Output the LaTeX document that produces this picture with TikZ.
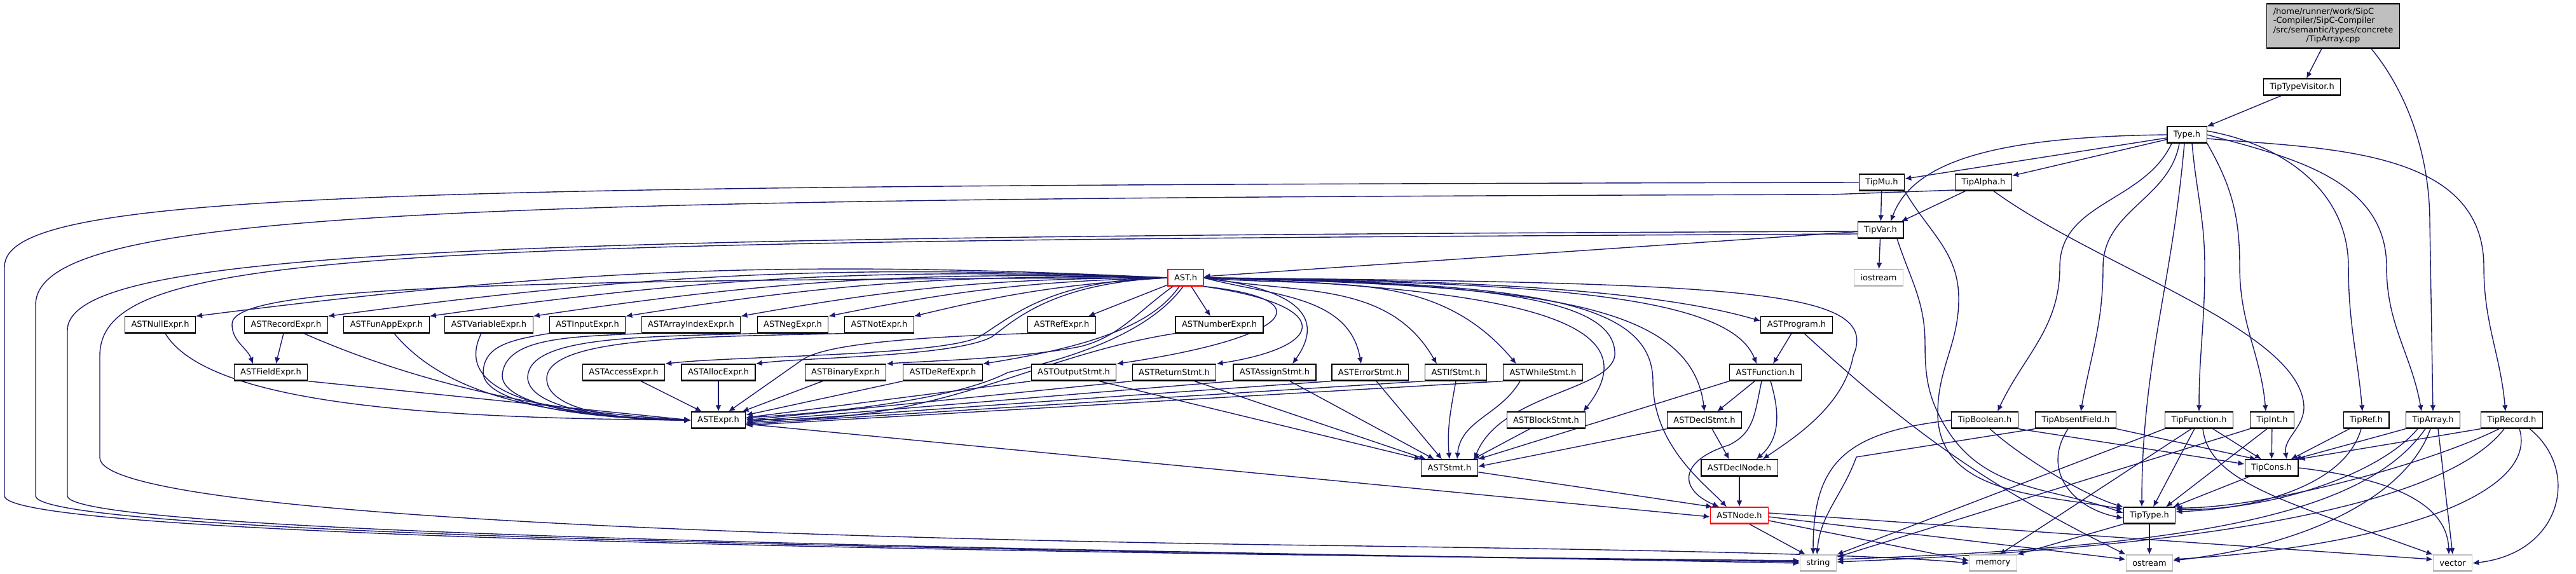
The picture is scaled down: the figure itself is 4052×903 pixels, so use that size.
\documentclass[tikz,border=0pt]{standalone}
\usepackage{fontspec}
\setmainfont{DejaVu Sans}
\usetikzlibrary{arrows.meta}
\pgfdeclarelayer{bg}
\pgfsetlayers{bg,main}
\definecolor{edgec}{HTML}{191970}
\definecolor{sysc}{HTML}{BFBFBF}
\definecolor{mainfill}{HTML}{BFBFBF}
\tikzset{
  hdr/.style={draw=black, fill=white, line width=0.6pt, minimum height=13pt, inner xsep=5pt, inner ysep=0pt,
    font=\fontsize{6.5}{7.2}\selectfont,
    path picture={\draw[line width=1.8pt, black!70] (path picture bounding box.south west) -- (path picture bounding box.south east);}},
  syshdr/.style={hdr, draw=sysc, path picture={\draw[line width=1.6pt, black!30] (path picture bounding box.south west) -- (path picture bounding box.south east);}},
  redhdr/.style={hdr, draw=red, path picture={\draw[line width=1.6pt, red!60] (path picture bounding box.south west) -- (path picture bounding box.south east);}},
  mainhdr/.style={hdr, fill=mainfill, minimum width=104.5pt, minimum height=35pt},
  e/.style={draw=edgec, line width=0.7pt, -{Latex[length=5pt,width=4.4pt]}},
}
\begin{document}
\begin{tikzpicture}[x=0.5pt,y=0.5pt]
\useasboundingbox (0,0) rectangle (4052,-903);
% ---------- nodes ----------
\node[mainhdr] (cpp) at (3670,-41) {\begin{tabular}{@{}l@{}}/home/runner/work/SipC\\-Compiler/SipC-Compiler\\/src/semantic/types/concrete\\\multicolumn{1}{@{}c@{}}{/TipArray.cpp}\end{tabular}};
\node[hdr] (tiptv) at (3621,-137) {TipTypeVisitor.h};
\node[hdr] (type) at (3440,-212) {Type.h};
\node[hdr] (tipmu) at (2960,-287) {TipMu.h};
\node[hdr] (tipalpha) at (3120,-287) {TipAlpha.h};
\node[hdr] (tipvar) at (2958,-362) {TipVar.h};
\node[redhdr] (ast) at (1865,-437) {AST.h};
\node[syshdr] (iostream) at (2955,-437) {iostream};
% rank 6
\node[hdr] (astnull) at (252,-511) {ASTNullExpr.h};
\node[hdr] (astrecord) at (450,-511) {ASTRecordExpr.h};
\node[hdr] (astfunapp) at (608,-511) {ASTFunAppExpr.h};
\node[hdr] (astvariable) at (769,-511) {ASTVariableExpr.h};
\node[hdr] (astinput) at (924,-511) {ASTInputExpr.h};
\node[hdr] (astarrayidx) at (1087,-511) {ASTArrayIndexExpr.h};
\node[hdr] (astneg) at (1247,-511) {ASTNegExpr.h};
\node[hdr] (astnot) at (1383,-511) {ASTNotExpr.h};
\node[hdr] (astref) at (1670,-511) {ASTRefExpr.h};
\node[hdr] (astnumber) at (1918,-511) {ASTNumberExpr.h};
\node[hdr] (astprogram) at (2826,-511) {ASTProgram.h};
% rank 7
\node[hdr] (astfield) at (426,-586) {ASTFieldExpr.h};
\node[hdr] (astaccess) at (981,-586) {ASTAccessExpr.h};
\node[hdr] (astalloc) at (1130,-586) {ASTAllocExpr.h};
\node[hdr] (astbinary) at (1330,-586) {ASTBinaryExpr.h};
\node[hdr] (astderef) at (1483,-586) {ASTDeRefExpr.h};
\node[hdr] (astoutput) at (1689,-586) {ASTOutputStmt.h};
\node[hdr] (astreturn) at (1847,-586) {ASTReturnStmt.h};
\node[hdr] (astassign) at (2005,-586) {ASTAssignStmt.h};
\node[hdr] (asterror) at (2155,-586) {ASTErrorStmt.h};
\node[hdr] (astif) at (2290,-586) {ASTIfStmt.h};
\node[hdr] (astwhile) at (2427,-586) {ASTWhileStmt.h};
\node[hdr] (astfunction) at (2777,-586) {ASTFunction.h};
% rank 8
\node[hdr] (astexpr) at (1130,-661) {ASTExpr.h};
\node[hdr] (astblock) at (2432,-661) {ASTBlockStmt.h};
\node[hdr] (astdeclstmt) at (2681,-661) {ASTDeclStmt.h};
\node[hdr] (tipbool) at (3122,-661) {TipBoolean.h};
\node[hdr] (tipabsent) at (3265,-661) {TipAbsentField.h};
\node[hdr] (tipfunc) at (3459,-661) {TipFunction.h};
\node[hdr] (tipint) at (3574,-661) {TipInt.h};
\node[hdr] (tipref) at (3722,-661) {TipRef.h};
\node[hdr] (tiparray) at (3827,-661) {TipArray.h};
\node[hdr] (tiprecord) at (3951,-661) {TipRecord.h};
% rank 9
\node[hdr] (aststmt) at (2280,-736) {ASTStmt.h};
\node[hdr] (astdeclnode) at (2736,-736) {ASTDeclNode.h};
\node[hdr] (tipcons) at (3573,-736) {TipCons.h};
% rank 10
\node[redhdr] (astnode) at (2736,-811) {ASTNode.h};
\node[hdr] (tiptype) at (3381,-811) {TipType.h};
% rank 11
\node[syshdr] (nstring) at (2860,-886) {string};
\node[syshdr] (nmemory) at (3135,-886) {memory};
\node[syshdr] (nostream) at (3381,-886) {ostream};
\node[syshdr] (nvector) at (3858,-886) {vector};

\begin{pgfonlayer}{bg}
% ---------- top part ----------
\draw[e] (cpp) -- (tiptv);
\draw[e] ([xshift=30pt]cpp.south) .. controls (3790,-150) and (3822,-250) .. (3822,-350) -- (tiparray.north);
\draw[e] (tiptv) -- (type);
\draw[e] (type) -- (tipmu);
\draw[e] (type) -- (tipalpha);
\draw[e] (type.west) .. controls (3150,-215) and (3010,-250) .. ([xshift=8pt]tipvar.north);
\draw[e] ([xshift=-12pt]type.south) to[out=-115,in=90] (3240,-420) to[out=-90,in=65] ([xshift=10pt]tipbool.north);
\draw[e] ([xshift=-6pt]type.south) to[out=-100,in=90] (3308,-420) to[out=-90,in=80] ([xshift=4pt]tipabsent.north);
\draw[e] ([xshift=-2pt]type.south) to[out=-95,in=90] ([xshift=-6pt]tiptype.north);
\draw[e] ([xshift=4pt]type.south) to[out=-85,in=90] (3468,-420) to[out=-90,in=90] (tipfunc.north);
\draw[e] (type.south east) to[out=-60,in=90] (3523,-420) to[out=-90,in=95] ([xshift=-5pt]tipint.north);
\draw[e] ([yshift=3pt]type.east) to[out=-10,in=90] (3694,-420) to[out=-90,in=95] ([xshift=-3pt]tipref.north);
\draw[e] (type.east) to[out=-15,in=90] (3754,-420) to[out=-90,in=100] ([xshift=-9pt]tiparray.north);
\draw[e] ([yshift=-3pt]type.east) to[out=-5,in=90] (3907,-420) to[out=-90,in=95] ([xshift=-5pt]tiprecord.north);
% TipMu / TipAlpha / TipVar
\draw[e] (tipmu) -- (tipvar);
\draw[e] (tipalpha) -- ([xshift=-2pt]tipvar.north east);
\draw[e] ([xshift=8pt]tipalpha.south) .. controls (3300,-420) and (3620,-520) .. (3624,-640) to[out=-90,in=100] ([xshift=12pt]tipcons.north);
\draw[e] (tipmu.south east) to[out=-60,in=90] (3081,-470) to[out=-90,in=90] (3048,-650) to[out=-90,in=170] ([yshift=5pt]tiptype.west);
\draw[e] ([xshift=13pt]tipvar.south) to[out=-72,in=90] (3028,-540) to[out=-90,in=120] (3058,-668) to[out=-60,in=160] ([yshift=2pt]tiptype.west);
\draw[e] (tipvar) -- (iostream);
\draw[e] (tipvar) -- (ast);
% long loops on the left
\draw[e] (tipmu.west) .. controls (600,-292) and (7,-300) .. (7,-420) -- (7,-780) .. controls (7,-850) and (1800,-872) .. ([yshift=2pt]nstring.west);
\draw[e] ([yshift=-6pt]tipalpha.west) -- (2880,-306) .. controls (700,-312) and (56,-330) .. (56,-480) -- (56,-780) .. controls (56,-848) and (1800,-868) .. ([yshift=1pt]nstring.west);
\draw[e] ([yshift=-1pt]tipvar.west) .. controls (800,-372) and (106,-390) .. (106,-520) -- (106,-780) .. controls (106,-845) and (1800,-866) .. (nstring.west);
\draw[e] ([yshift=-3pt]tipvar.west) .. controls (600,-380) and (157,-390) .. (157,-560) -- (157,-720) .. controls (157,-810) and (1200,-845) .. (2000,-857) .. controls (2600,-865) and (2950,-872) .. (nmemory.west);
% ---------- AST.h fan ----------
\draw[e] (ast.west) to[bend right=5] (astnull.north east);
\draw[e] (ast.west) to[bend right=5] (astrecord.north east);
\draw[e] (ast.west) to[bend right=5] (astfunapp.north east);
\draw[e] (ast.west) to[bend right=5] (astvariable.north east);
\draw[e] (ast.west) to[bend right=5] (astinput.north east);
\draw[e] (ast.west) to[bend right=5] (astarrayidx.north east);
\draw[e] (ast.west) to[bend right=5] (astneg.north east);
\draw[e] (ast.west) to[bend right=5] (astnot.north east);
\draw[e] (ast) -- ([xshift=-6pt]astref.north east);
\draw[e] (ast) -- ([xshift=-7pt]astnumber.north);
\draw[e] (ast.west) .. controls (700,-440) and (365,-455) .. (365,-510) to[out=-90,in=110] ([xshift=-14pt]astfield.north);
\draw[e] (ast.west) .. controls (1650,-440) and (1590,-500) .. (1540,-530) .. controls (1480,-560) and (1150,-560) .. (astaccess.north east);
\draw[e] (ast.west) .. controls (1660,-445) and (1600,-500) .. (1560,-530) .. controls (1500,-562) and (1260,-562) .. (astalloc.north east);
\draw[e] ([xshift=-10pt]ast.south) .. controls (1790,-490) and (1760,-530) .. (1700,-545) .. controls (1600,-565) and (1450,-568) .. (astbinary.north east);
\draw[e] ([xshift=-5pt]ast.south) .. controls (1820,-500) and (1750,-540) .. (astderef.north east);
\draw[e] ([xshift=-2pt]ast.south) .. controls (1810,-520) and (1700,-560) .. (1585,-586) .. controls (1500,-630) and (1300,-650) .. ([yshift=2pt]astexpr.east);
\draw[e] (ast.south east) .. controls (2080,-470) and (2040,-530) .. (astoutput.north east);
\draw[e] (ast.south east) .. controls (2100,-480) and (2090,-545) .. (astreturn.north east);
\draw[e] (ast.east) .. controls (2080,-460) and (2070,-520) .. ([xshift=14pt]astassign.north);
\draw[e] (ast.east) to[out=-15,in=100] ([xshift=-7pt]asterror.north);
\draw[e] (ast.east) to[out=-10,in=120] ([xshift=-15pt]astif.north);
\draw[e] (ast.east) to[out=-5,in=130] ([xshift=-21pt]astwhile.north);
\draw[e] (ast.east) .. controls (2450,-455) and (2590,-520) .. ([xshift=-2pt]astblock.north east);
\draw[e] (ast.east) .. controls (2350,-445) and (2545,-470) .. (2540,-560) .. controls (2530,-615) and (2360,-620) .. ([xshift=-3pt]aststmt.north east);
\draw[e] (ast.east) .. controls (2400,-450) and (2660,-470) .. (astdeclstmt.north);
\draw[e] (ast.east) .. controls (2400,-445) and (2720,-460) .. ([xshift=-7pt]astfunction.north);
\draw[e] (ast.east) .. controls (2300,-440) and (2600,-455) .. ([yshift=3pt]astprogram.west);
\draw[e] (ast.east) .. controls (2750,-445) and (2960,-455) .. (2915,-560) .. controls (2900,-640) and (2820,-690) .. ([xshift=-12pt]astdeclnode.north east);
\draw[e] (ast.east) .. controls (2400,-445) and (2600,-470) .. (2600,-600) .. controls (2600,-700) and (2680,-760) .. ([xshift=-10pt]astnode.north);
% ---------- expressions -> ASTExpr.h ----------
\draw[e] ([xshift=4pt]astnull.south) .. controls (330,-640) and (700,-658) .. (astexpr.west);
\draw[e] ([xshift=14pt]astrecord.south) .. controls (650,-600) and (850,-648) .. (astexpr.west);
\draw[e] ([xshift=-2pt]astrecord.south) -- ([xshift=4pt]astfield.north);
\draw[e] (astfield.south east) -- (astexpr.west);
\draw[e] ([xshift=6pt]astfunapp.south) .. controls (700,-620) and (850,-655) .. (astexpr.west);
\draw[e] ([xshift=-6pt]astvariable.south) .. controls (720,-600) and (800,-652) .. (astexpr.west);
\draw[e] (astinput.south west) .. controls (800,-535) and (762,-545) .. (760,-585) .. controls (758,-640) and (950,-660) .. (astexpr.west);
\draw[e] (astarrayidx.south west) .. controls (900,-530) and (795,-530) .. (790,-590) .. controls (788,-640) and (950,-660) .. (astexpr.west);
\draw[e] (astneg.south west) .. controls (1000,-530) and (835,-530) .. (830,-592) .. controls (828,-640) and (950,-660) .. (astexpr.west);
\draw[e] (astnot.south west) .. controls (1100,-530) and (865,-530) .. (860,-594) .. controls (858,-640) and (950,-660) .. (astexpr.west);
\draw[e] (astref.south west) .. controls (1450,-530) and (1300,-540) .. (1262,-566) -- ([xshift=8pt]astexpr.north);
\draw[e] (astnumber.south west) .. controls (1620,-560) and (1480,-670) .. ([yshift=1pt]astexpr.east);
\draw[e] (astaccess) -- ([xshift=-13pt]astexpr.north);
\draw[e] (astalloc) -- (astexpr);
\draw[e] (astbinary) -- ([xshift=-3pt]astexpr.north east);
\draw[e] (astderef.south west) -- ([yshift=4pt]astexpr.east);
\draw[e] (astoutput.south west) -- ([yshift=2pt]astexpr.east);
\draw[e] (astreturn.south west) -- (astexpr.east);
\draw[e] (astassign.south west) -- ([yshift=-1pt]astexpr.east);
\draw[e] (asterror.south west) -- ([yshift=-2pt]astexpr.east);
\draw[e] (astif.south west) -- ([yshift=-3pt]astexpr.east);
\draw[e] (astwhile.south west) -- ([yshift=-4pt]astexpr.east);
% ---------- statements -> ASTStmt.h ----------
\draw[e] ([xshift=20pt]astoutput.south) -- (aststmt.north west);
\draw[e] ([xshift=16pt]astreturn.south) -- ([xshift=4pt]aststmt.north west);
\draw[e] ([xshift=12pt]astassign.south) -- ([xshift=-12pt]aststmt.north);
\draw[e] ([xshift=5pt]asterror.south) -- ([xshift=-6pt]aststmt.north);
\draw[e] (astif.south) to[out=-100,in=95] (aststmt.north);
\draw[e] ([xshift=-18pt]astwhile.south) to[out=-120,in=85] ([xshift=6pt]aststmt.north);
\draw[e] (astblock) -- ([xshift=-4pt]aststmt.north east);
\draw[e] (astfunction.south west) -- (aststmt.north east);
\draw[e] (astdeclstmt.south west) -- ([yshift=1pt]aststmt.east);
% ---------- to ASTNode.h ----------
\draw[e] ([yshift=-3pt]astexpr.east) -- ([yshift=-1pt]astnode.west);
\draw[e] (aststmt) -- ([xshift=2pt]astnode.north west);
\draw[e] (astdeclnode) -- (astnode);
\draw[e] ([xshift=-3pt]astfunction.south) .. controls (2760,-650) and (2760,-680) .. (2720,-700) .. controls (2640,-725) and (2640,-770) .. ([xshift=-16pt]astnode.north);
\draw[e] (astfunction) -- ([xshift=10pt]astdeclstmt.north);
\draw[e] ([xshift=4pt]astfunction.south) .. controls (2800,-650) and (2800,-690) .. ([xshift=-17pt]astdeclnode.north east);
\draw[e] ([xshift=6pt]astdeclstmt.south) -- ([xshift=-8pt]astdeclnode.north);
\draw[e] ([xshift=-4pt]astprogram.south) -- ([xshift=6pt]astfunction.north);
\draw[e] ([xshift=6pt]astprogram.south) to[bend right=8] (nostream.north west);
% ASTNode -> system headers
\draw[e] ([xshift=8pt]astnode.south) -- ([xshift=-10pt]nstring.north);
\draw[e] ([yshift=-4pt]astnode.east) -- ([yshift=2pt]nmemory.west);
\draw[e] ([yshift=-1pt]astnode.east) -- ([yshift=3pt]nostream.west);
\draw[e] ([yshift=2pt]astnode.east) -- ([yshift=3pt]nvector.west);
% ---------- Tip types ----------
\draw[e] (tipbool.west) .. controls (2900,-680) and (2852,-730) .. ([xshift=-4pt]nstring.north);
\draw[e] ([xshift=4pt]tipbool.south) .. controls (3180,-720) and (3280,-780) .. (tiptype.north west);
\draw[e] (tipbool.south east) -- ([yshift=3pt]tipcons.west);
\draw[e] (tipabsent.south west) -- (2920,-719) to[out=-110,in=85] ([xshift=-1pt]nstring.north);
\draw[e] ([xshift=-6pt]tipabsent.south) .. controls (3210,-740) and (3260,-800) .. ([yshift=-2pt]tiptype.west);
\draw[e] (tipabsent.south east) -- ([xshift=-12pt]tipcons.north);
\draw[e] (tipfunc.south west) -- (nstring.north east);
\draw[e] ([xshift=-6pt]tipfunc.south) -- ([xshift=5pt]nmemory.north);
\draw[e] (tipfunc) -- ([xshift=3pt]tiptype.north);
\draw[e] ([xshift=3pt]tipfunc.south) .. controls (3475,-760) and (3600,-790) .. (nvector.north west);
\draw[e] (tipfunc) -- ([xshift=-8pt]tipcons.north);
\draw[e] (tipint) -- (tipcons);
\draw[e] ([xshift=-4pt]tipint.south) -- ([xshift=13pt]tiptype.north);
\draw[e] (tipint.south west) -- ([yshift=-2pt]nstring.north east);
\draw[e] (tipref) -- ([xshift=-6pt]tipcons.north east);
\draw[e] ([xshift=-4pt]tipref.south) .. controls (3690,-760) and (3560,-800) .. ([yshift=3pt]tiptype.east);
\draw[e] (tiparray.south west) -- ([xshift=-3pt]tipcons.north east);
\draw[e] ([xshift=-12pt]tiparray.south) .. controls (3740,-750) and (3560,-805) .. ([yshift=5pt]tiptype.east);
\draw[e] ([xshift=-6pt]tiparray.south) .. controls (3720,-810) and (3450,-860) .. ([yshift=3pt]nstring.east);
\draw[e] ([xshift=-2pt]tiparray.south) .. controls (3790,-770) and (3650,-855) .. ([yshift=2pt]nostream.east);
\draw[e] ([xshift=4pt]tiparray.south) -- (nvector.north);
\draw[e] (tiprecord.south west) -- (tipcons.north east);
\draw[e] ([xshift=-10pt]tiprecord.south) .. controls (3820,-730) and (3560,-800) .. ([yshift=6pt]tiptype.east);
\draw[e] ([xshift=-6pt]tiprecord.south) .. controls (3850,-790) and (3500,-860) .. ([yshift=1pt]nstring.east);
\draw[e] ([xshift=6pt]tiprecord.south) .. controls (3995,-780) and (3750,-860) .. ([yshift=3pt]nostream.east);
\draw[e] ([xshift=14pt]tiprecord.south) .. controls (4060,-740) and (4030,-870) .. (nvector.east);
\draw[e] (tipcons) -- ([xshift=-2pt]tiptype.north east);
\draw[e] (tipcons.east) .. controls (3780,-755) and (3850,-800) .. ([xshift=-3pt]nvector.north);
\draw[e] (tiptype.south west) -- (nmemory.north east);
\draw[e] (tiptype) -- (nostream);
\end{pgfonlayer}
\end{tikzpicture}
\end{document}
